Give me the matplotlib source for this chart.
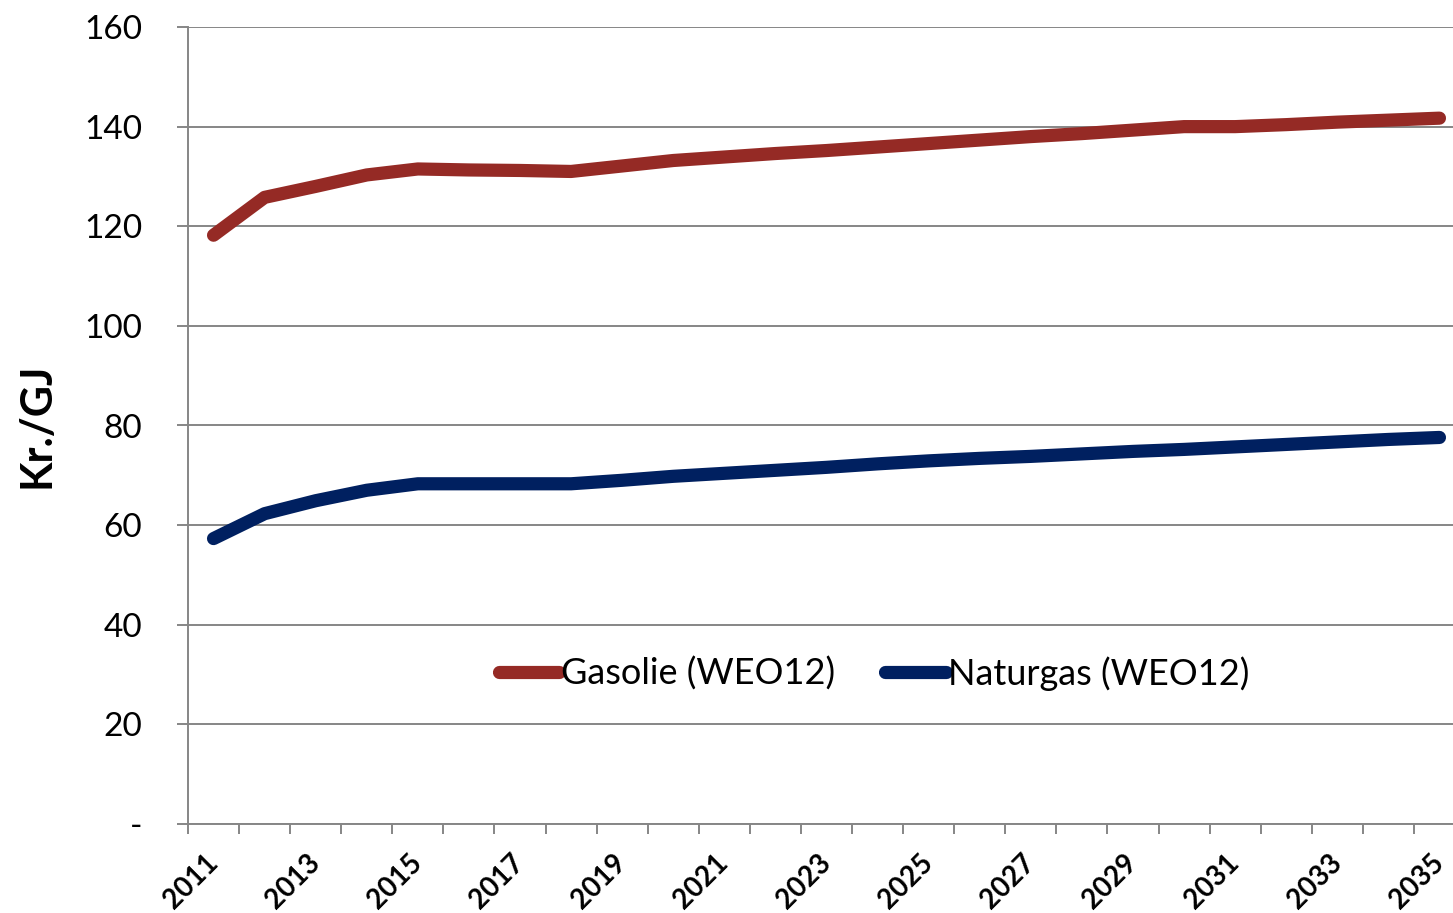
import numpy as np
import matplotlib
matplotlib.use("Agg")
import matplotlib.pyplot as plt
import matplotlib.transforms as mtransforms
from matplotlib.ticker import FixedLocator, FuncFormatter

plt.rcParams['font.family'] = ['Lato', 'DejaVu Sans']

years = list(range(2011, 2036))
gasolie = [118.2, 125.8, 128.0, 130.3, 131.5, 131.3, 131.2, 131.0, 132.1, 133.2,
           133.9, 134.6, 135.2, 135.9, 136.6, 137.3, 138.0, 138.6, 139.3, 140.0,
           140.0, 140.4, 140.9, 141.3, 141.7]
naturgas = [57.3, 62.3, 64.9, 67.0, 68.3, 68.3, 68.3, 68.3, 69.0, 69.8,
            70.4, 71.0, 71.6, 72.3, 72.9, 73.4, 73.8, 74.3, 74.8, 75.2,
            75.7, 76.2, 76.7, 77.2, 77.6]
labels = ['Gasolie (WEO12)', 'Naturgas (WEO12)']
colors = ['#952A25', '#002060']

fig = plt.figure(figsize=(14.53, 9.13), dpi=100)
# plot area runs a bit past the right edge, as in the source
ax = fig.add_axes([188 / 1453, 89 / 913, 1277 / 1453, 797 / 913])

x = np.arange(len(years))
for vals, lab, c in zip([gasolie, naturgas], labels, colors):
    ax.plot(x, vals, color=c, lw=9.5, solid_capstyle='round',
            solid_joinstyle='round', label=lab)

grid_c = '#868686'
ax.set_ylim(0, 160)
ax.set_xlim(-0.5, len(years) - 0.5)
ax.set_yticks(np.arange(0, 161, 20))
ax.yaxis.set_major_formatter(FuncFormatter(lambda v, p: '-' if v == 0 else '%d' % v))
ax.grid(axis='y', color=grid_c, lw=1.4)
ax.set_axisbelow(True)

ax.xaxis.set_major_locator(FixedLocator(x[::2]))
ax.set_xticklabels([str(y) for y in years[::2]], rotation=45, ha='right',
                   va='center', rotation_mode='anchor', fontweight='bold')
shift = mtransforms.ScaledTranslation(6 / 100, 0, fig.dpi_scale_trans)
for t in ax.get_xticklabels():
    t.set_transform(t.get_transform() + shift)
ax.xaxis.set_minor_locator(FixedLocator(np.arange(-0.5, len(years), 1.0)))
ax.tick_params(axis='x', which='major', length=0, pad=25, labelsize=20)
ax.tick_params(axis='x', which='minor', length=7, width=1.4, color=grid_c)
ax.tick_params(axis='y', length=8, width=1.4, color=grid_c, pad=25, labelsize=24)

for s in ['top', 'right']:
    ax.spines[s].set_visible(False)
for s in ['left', 'bottom']:
    ax.spines[s].set_color(grid_c)
    ax.spines[s].set_linewidth(1.4)

ax.set_ylabel('Kr./GJ', fontsize=31, fontweight='bold', labelpad=20)

ax.legend(loc='center', bbox_to_anchor=(0.537, 0.189), ncol=2, frameon=False,
          fontsize=26, handlelength=1.67, handletextpad=0.05, columnspacing=1.4)

fig.savefig('out.png', dpi=100)
